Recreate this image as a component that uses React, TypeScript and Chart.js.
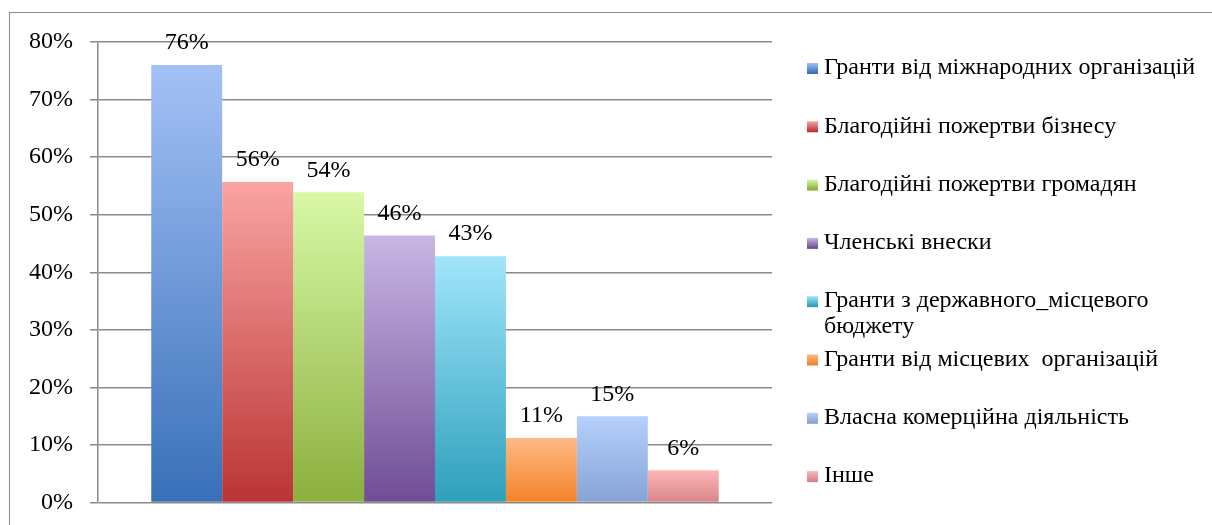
import React, { useEffect, useRef } from "react";
import { Chart, registerables } from "chart.js";

Chart.register(...registerables);

const categories = [""];
const seriesLabels = [
  "Гранти від міжнародних організацій",
  "Благодійні пожертви бізнесу",
  "Благодійні пожертви громадян",
  "Членські внески",
  ["Гранти з державного_місцевого", "бюджету"],
  "Гранти від місцевих  організацій",
  "Власна комерційна діяльність",
  "Інше",
];
const seriesValues = [76, 55.7, 53.9, 46.4, 42.8, 11.2, 15, 5.6];
const valueLabels = ["76%", "56%", "54%", "46%", "43%", "11%", "15%", "6%"];
const topColors = ["#a4c1f6", "#faa4a2", "#d8f8a6", "#c9b6e4", "#a0e6fb", "#fdb985", "#b5d0fc", "#fdb6b6"];
const bottomColors = ["#3870b8", "#ba3434", "#8caf3e", "#6f4d95", "#2e9fbc", "#f28427", "#86a3d5", "#d88488"];
const yTicks = [0, 10, 20, 30, 40, 50, 60, 70, 80];

const FONT = "'Liberation Serif', 'Times New Roman', serif";
const CANVAS_H = 534;

export default function App() {
  const ref = useRef<HTMLCanvasElement | null>(null);

  useEffect(() => {
    if (!ref.current) return;

    const labelPlugin = {
      id: "valueLabels",
      afterDatasetsDraw(chart: any) {
        const ctx = chart.ctx;
        ctx.save();
        ctx.font = `24px ${FONT}`;
        ctx.fillStyle = "#000";
        ctx.textAlign = "center";
        ctx.textBaseline = "middle";
        chart.data.datasets.forEach((ds: any, i: number) => {
          const meta = chart.getDatasetMeta(i);
          meta.data.forEach((bar: any) => {
            ctx.fillText(valueLabels[i], bar.x, bar.y - 22);
          });
        });
        ctx.restore();
      },
    };

    const legendPlugin = {
      id: "sideLegend",
      afterDraw(chart: any) {
        const ctx = chart.ctx;
        ctx.save();
        ctx.font = `24px ${FONT}`;
        ctx.fillStyle = "#000";
        ctx.textAlign = "left";
        ctx.textBaseline = "middle";
        const startY = 68;
        const step = 58.3;
        const boxX = 807;
        const textX = 824;
        seriesLabels.forEach((lbl, i) => {
          const y = startY + i * step;
          const g = ctx.createLinearGradient(0, y - 5, 0, y + 5);
          g.addColorStop(0, topColors[i]);
          g.addColorStop(1, bottomColors[i]);
          ctx.fillStyle = g;
          ctx.fillRect(boxX, y - 5, 11, 11);
          ctx.fillStyle = "#000";
          const lines = Array.isArray(lbl) ? lbl : [lbl];
          lines.forEach((t, j) => ctx.fillText(t, textX, y + j * 26));
        });
        ctx.restore();
      },
    };

    const datasets = seriesValues.map((v, i) => ({
      label: Array.isArray(seriesLabels[i]) ? (seriesLabels[i] as string[]).join(" ") : (seriesLabels[i] as string),
      data: [v],
      backgroundColor: (c: any) => {
        const chart = c.chart;
        const area = chart.chartArea;
        if (!area) return topColors[i];
        const yScale = chart.scales.y;
        const top = yScale.getPixelForValue(v);
        const bottom = yScale.getPixelForValue(0);
        const g = chart.ctx.createLinearGradient(0, top, 0, bottom);
        g.addColorStop(0, topColors[i]);
        g.addColorStop(1, bottomColors[i]);
        return g;
      },
      borderWidth: 0,
      barPercentage: 1,
      categoryPercentage: 0.842,
    }));

    const chart = new Chart(ref.current, {
      type: "bar",
      data: { labels: categories, datasets },
      options: {
        animation: false,
        responsive: false,
        maintainAspectRatio: false,
        layout: { padding: { left: 0, top: 42, right: 440, bottom: 5 } },
        plugins: { legend: { display: false }, tooltip: { enabled: false } },
        scales: {
          x: { display: false },
          y: {
            min: 0,
            max: 80,
            afterBuildTicks: (s: any) => {
              s.ticks = yTicks.map((v) => ({ value: v }));
            },
            afterFit: (s: any) => {
              s.width = 98;
            },
            ticks: {
              callback: (v: any) => `${v}%`,
              font: { family: FONT, size: 24 },
              color: "#000",
              padding: 17,
            },
            grid: { color: "#8a8a8a", lineWidth: 1.5, tickLength: 8, drawTicks: true },
            border: { display: true, color: "#8a8a8a", width: 1.5 },
          },
        },
      },
      plugins: [labelPlugin, legendPlugin],
    });

    return () => chart.destroy();
  }, []);

  return (
    <div style={{ position: "fixed", left: 0, top: 0, width: 1212, height: 525, background: "#fff", overflow: "hidden" }}>
      <div
        style={{
          position: "absolute",
          left: 9,
          top: 12,
          width: 1220,
          height: 540,
          borderTop: "1.5px solid #8a8a8a",
          borderLeft: "1.5px solid #8a8a8a",
          boxSizing: "border-box",
        }}
      />
      <canvas
        ref={ref}
        width={1212}
        height={CANVAS_H}
        style={{ position: "absolute", left: 0, top: 0, width: 1212, height: CANVAS_H }}
      />
    </div>
  );
}
